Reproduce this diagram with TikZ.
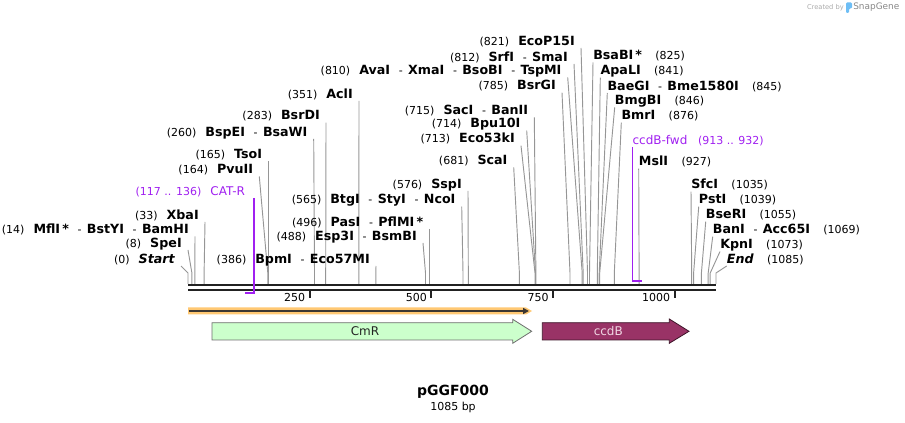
\documentclass[tikz,border=0pt]{standalone}
\usepackage{fontspec}
\setmainfont{DejaVu Sans}
\usetikzlibrary{positioning,arrows.meta}

\definecolor{sitegray}{RGB}{150,150,150}
\definecolor{seqblack}{RGB}{34,34,34}
\definecolor{primerviolet}{RGB}{160,32,240}
\definecolor{cmrgreen}{RGB}{204,255,204}
\definecolor{cmredge}{RGB}{110,110,110}
\definecolor{ccdbred}{RGB}{153,51,102}
\definecolor{ccdbedge}{RGB}{60,20,40}
\definecolor{ccdbtext}{RGB}{240,215,228}
\definecolor{featorange}{RGB}{255,200,115}
\definecolor{featdark}{RGB}{60,55,50}
\definecolor{logogray}{RGB}{170,170,170}
\definecolor{logoblue}{RGB}{110,190,245}

\newcommand{\enz}[1]{{\fontsize{9.5}{11}\selectfont\bfseries #1}}
\newcommand{\bpnum}[1]{{\fontsize{8.25}{10}\selectfont #1}}
\newcommand{\sepa}{\hspace{6.5pt}{\mdseries\fontsize{8.25}{10}\selectfont -}\hspace{4pt}}
\newcommand{\lcut}[2]{\bpnum{(#1)}\hspace{6.75pt}\enz{#2}}
\newcommand{\rcut}[2]{\enz{#1}\hspace{10pt}\bpnum{(#2)}}
\newcommand{\oligo}[1]{{\fontsize{9}{11}\selectfont #1}}

\tikzset{
  leftcut/.style={anchor=south east, inner xsep=4.5pt, inner ysep=0pt, text height=7.3pt, text depth=2pt},
  rightcut/.style={anchor=south west, inner xsep=0pt, inner ysep=0pt, text height=7.3pt, text depth=2pt},
  siteline/.style={draw=sitegray, line width=0.7pt},
  primer/.style={draw=primerviolet, line width=1.2pt},
  tick/.style={draw=seqblack, line width=1.5pt},
  ticklabel/.style={anchor=east, inner sep=0pt, font=\fontsize{8.25}{10}\selectfont},
  featlabel/.style={inner sep=0pt, font=\fontsize{9}{11}\selectfont}
}

\begin{document}
\begin{tikzpicture}[x=0.75pt,y=-0.75pt]
\useasboundingbox (0,0) rectangle (905,423);

% created by
\node[anchor=east, inner sep=0pt, text=logogray, font=\fontsize{5}{6}\selectfont] (createdby) at (844,7.5) {Created by};
\fill[logoblue, rounded corners=0.8pt] (846,2.5) -- (852,2.5) -- (852,8.5) -- (849,8.5) -- (849,13) -- (846,13) -- cycle;
\node[anchor=west, inner sep=0pt, text=logogray!80!black, font=\fontsize{6.7}{8}\selectfont] (snapgene) at (853,7.5) {SnapGene};

% backbone
\coordinate (seqtop) at (188,284);
\draw[seqblack, line width=2.2pt] (188,285) -- (716,285);
\draw[seqblack, line width=1.5pt] (188,289.7) -- (716,289.7);

% ticks
\draw[tick] (309.7,290.5) -- (309.7,298.5);
\node[ticklabel] (t250) at (305.5,297.5) {250};
\draw[tick] (431.3,290.5) -- (431.3,298.5);
\node[ticklabel] (t500) at (427.1,297.5) {500};
\draw[tick] (553,290.5) -- (553,298.5);
\node[ticklabel] (t750) at (548.8,297.5) {750};
\draw[tick] (674.6,290.5) -- (674.6,298.5);
\node[ticklabel] (t1000) at (670.4,297.5) {1000};

% sites on the left
\node[leftcut] (start) at (181,266) {\lcut{0}{\itshape Start}};
\coordinate (s0) at (188,273);
\draw[siteline] (start.south east) -- (s0) -- (s0 |- seqtop);
\node[leftcut] (spei) at (188,250) {\lcut{8}{SpeI}};
\coordinate (s8) at (191.9,273);
\draw[siteline] (spei.south east) -- (s8) -- (s8 |- seqtop);
\node[leftcut] (bamhi) at (195,236.5) {\lcut{14}{MflI\,*\sepa BstYI\sepa BamHI}};
\coordinate (s14) at (194.8,273);
\draw[siteline] (bamhi.south east) -- (s14) -- (s14 |- seqtop);
\node[leftcut] (xbai) at (205,222) {\lcut{33}{XbaI}};
\coordinate (s33) at (204.1,273);
\draw[siteline] (xbai.south east) -- (s33) -- (s33 |- seqtop);
\node[leftcut] (pvuii) at (259.3,176.5) {\lcut{164}{PvuII}};
\coordinate (s164) at (267.8,273);
\draw[siteline] (pvuii.south east) -- (s164) -- (s164 |- seqtop);
\node[leftcut] (tsoi) at (268.3,161.5) {\lcut{165}{TsoI}};
\coordinate (s165) at (268.3,273);
\draw[siteline] (tsoi.south east) -- (s165) -- (s165 |- seqtop);
\node[leftcut] (bspei) at (313.7,139) {\lcut{260}{BspEI\sepa BsaWI}};
\coordinate (s260) at (314.5,273);
\draw[siteline] (bspei.south east) -- (s260) -- (s260 |- seqtop);
\node[leftcut] (bsrdi) at (326,122.7) {\lcut{283}{BsrDI}};
\coordinate (s283) at (325.7,273);
\draw[siteline] (bsrdi.south east) -- (s283) -- (s283 |- seqtop);
\node[leftcut] (acli) at (359,101) {\lcut{351}{AclI}};
\coordinate (s351) at (358.8,273);
\draw[siteline] (acli.south east) -- (s351) -- (s351 |- seqtop);
\node[leftcut] (bpmi) at (376,266) {\lcut{386}{BpmI\sepa Eco57MI}};
\coordinate (s386) at (375.8,273);
\draw[siteline] (bpmi.south east) -- (s386) -- (s386 |- seqtop);
\node[leftcut] (esp3i) at (423,243) {\lcut{488}{Esp3I\sepa BsmBI}};
\coordinate (s488) at (425.5,273);
\draw[siteline] (esp3i.south east) -- (s488) -- (s488 |- seqtop);
\node[leftcut] (pasi) at (429.4,229) {\lcut{496}{PasI\sepa PflMI\,*}};
\coordinate (s496) at (429.4,273);
\draw[siteline] (pasi.south east) -- (s496) -- (s496 |- seqtop);
\node[leftcut] (btgi) at (461.7,206.7) {\lcut{565}{BtgI\sepa StyI\sepa NcoI}};
\coordinate (s565) at (463,273);
\draw[siteline] (btgi.south east) -- (s565) -- (s565 |- seqtop);
\node[leftcut] (sspi) at (468,191) {\lcut{576}{SspI}};
\coordinate (s576) at (468.3,273);
\draw[siteline] (sspi.south east) -- (s576) -- (s576 |- seqtop);
\node[leftcut] (scai) at (513.7,167.3) {\lcut{681}{ScaI}};
\coordinate (s681) at (519.4,273);
\draw[siteline] (scai.south east) -- (s681) -- (s681 |- seqtop);
\node[leftcut] (eco53ki) at (521,145.7) {\lcut{713}{Eco53kI}};
\coordinate (s713) at (535,273);
\draw[siteline] (eco53ki.south east) -- (s713) -- (s713 |- seqtop);
\node[leftcut] (bpu10i) at (526.7,130.7) {\lcut{714}{Bpu10I}};
\coordinate (s714) at (535.5,273);
\draw[siteline] (bpu10i.south east) -- (s714) -- (s714 |- seqtop);
\node[leftcut] (saci) at (534.3,117.3) {\lcut{715}{SacI\sepa BanII}};
\coordinate (s715) at (535.9,273);
\draw[siteline] (saci.south east) -- (s715) -- (s715 |- seqtop);
\node[leftcut] (bsrgi) at (562,92.7) {\lcut{785}{BsrGI}};
\coordinate (s785) at (570,273);
\draw[siteline] (bsrgi.south east) -- (s785) -- (s785 |- seqtop);
\node[leftcut] (avai) at (567.7,77.3) {\lcut{810}{AvaI\sepa XmaI\sepa BsoBI\sepa TspMI}};
\coordinate (s810) at (582.2,273);
\draw[siteline] (avai.south east) -- (s810) -- (s810 |- seqtop);
\node[leftcut] (srfi) at (574,64) {\lcut{812}{SrfI\sepa SmaI}};
\coordinate (s812) at (583.2,273);
\draw[siteline] (srfi.south east) -- (s812) -- (s812 |- seqtop);
\node[leftcut] (ecop15i) at (581,48) {\lcut{821}{EcoP15I}};
\coordinate (s821) at (587.5,273);
\draw[siteline] (ecop15i.south east) -- (s821) -- (s821 |- seqtop);

% sites on the right
\node[rightcut] (bsabi) at (593,62.3) {\rcut{BsaBI\,*}{825}};
\coordinate (s825) at (589.5,273);
\draw[siteline] (bsabi.south west) -- (s825) -- (s825 |- seqtop);
\node[rightcut] (apali) at (600.3,77.7) {\rcut{ApaLI}{841}};
\coordinate (s841) at (597.3,273);
\draw[siteline] (apali.south west) -- (s841) -- (s841 |- seqtop);
\node[rightcut] (baegi) at (607.3,93) {\rcut{BaeGI\sepa Bme1580I}{845}};
\coordinate (s845) at (599.2,273);
\draw[siteline] (baegi.south west) -- (s845) -- (s845 |- seqtop);
\node[rightcut] (bmgbi) at (614.7,107.3) {\rcut{BmgBI}{846}};
\coordinate (s846) at (599.7,273);
\draw[siteline] (bmgbi.south west) -- (s846) -- (s846 |- seqtop);
\node[rightcut] (bmri) at (621.3,122.7) {\rcut{BmrI}{876}};
\coordinate (s876) at (614.3,273);
\draw[siteline] (bmri.south west) -- (s876) -- (s876 |- seqtop);
\node[rightcut] (msli) at (638.7,168.7) {\rcut{MslI}{927}};
\coordinate (s927) at (639.1,273);
\draw[siteline] (msli.south west) -- (s927) -- (s927 |- seqtop);
\node[rightcut] (sfci) at (691,191.7) {\rcut{SfcI}{1035}};
\coordinate (s1035) at (691.7,273);
\draw[siteline] (sfci.south west) -- (s1035) -- (s1035 |- seqtop);
\node[rightcut] (psti) at (698.7,206.7) {\rcut{PstI}{1039}};
\coordinate (s1039) at (693.6,273);
\draw[siteline] (psti.south west) -- (s1039) -- (s1039 |- seqtop);
\node[rightcut] (bseri) at (705.7,221.7) {\rcut{BseRI}{1055}};
\coordinate (s1055) at (701.4,273);
\draw[siteline] (bseri.south west) -- (s1055) -- (s1055 |- seqtop);
\node[rightcut] (bani) at (712.7,236.7) {\rcut{BanI\sepa Acc65I}{1069}};
\coordinate (s1069) at (708.2,273);
\draw[siteline] (bani.south west) -- (s1069) -- (s1069 |- seqtop);
\node[rightcut] (kpni) at (720,251.5) {\rcut{KpnI}{1073}};
\coordinate (s1073) at (710.2,273);
\draw[siteline] (kpni.south west) -- (s1073) -- (s1073 |- seqtop);
\node[rightcut] (end) at (726.7,266) {\rcut{\itshape End}{1085}};
\coordinate (s1085) at (716,273);
\draw[siteline] (end.south west) -- (s1085) -- (s1085 |- seqtop);

% primers
\node[leftcut, inner xsep=6.75pt, text=primerviolet] (catr) at (254.2,198) {\bpnum{(117 .. 136)}\hspace{6.75pt}\oligo{CAT-R}};
\coordinate (catrend) at (244.9,293);
\draw[primer] (catr.south east) |- (catrend);
\node[rightcut, text=primerviolet] (ccdbfwd) at (632.3,147) {\oligo{ccdB-fwd}\hspace{8pt}\bpnum{(913 .. 932)}};
\coordinate (fwdend) at (641.5,281);
\draw[primer] (ccdbfwd.south west) |- (fwdend);

% features
\fill[featorange] (188,307.5) -- (526,307.5) -- (532,311) -- (526,314.5) -- (188,314.5) -- cycle;
\draw[featdark, line width=1.3pt, -{Triangle[length=4.5pt,width=4.5pt]}] (189,311) -- (529,311);

\filldraw[fill=cmrgreen, draw=cmredge, line width=0.6pt] (212,322.7) -- (512.7,322.7) -- (512.7,319.3) -- (531.7,331.3) -- (512.7,343.3) -- (512.7,340) -- (212,340) -- cycle;
\node[featlabel, text=seqblack] (cmr) at (365,331.3) {CmR};

\filldraw[fill=ccdbred, draw=ccdbedge, line width=0.6pt] (542.3,322.7) -- (669.3,322.7) -- (669.3,319) -- (689,331.3) -- (669.3,343.3) -- (669.3,340) -- (542.3,340) -- cycle;
\node[featlabel, text=ccdbtext] (ccdb) at (608.3,331.3) {ccdB};

% name and size
\node[inner sep=0pt, font=\bfseries\fontsize{10.5}{12}\selectfont] (mapname) at (453,391.5) {pGGF000};
\node[inner sep=0pt, font=\fontsize{8.25}{10}\selectfont] (maplength) at (453,407.5) {1085 bp};
\end{tikzpicture}
\end{document}
